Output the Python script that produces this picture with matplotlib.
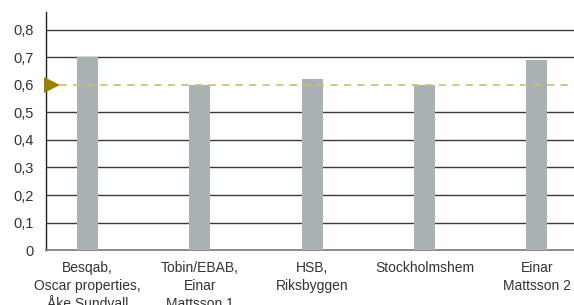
import matplotlib.pyplot as plt
import numpy as np

plt.rcParams['font.family'] = ['Liberation Sans', 'DejaVu Sans']

categories = ['Besqab,\nOscar properties,\nÅke Sundvall',
              'Tobin/EBAB,\nEinar\nMattsson 1',
              'HSB,\nRiksbyggen',
              'Stockholmshem',
              'Einar\nMattsson 2']
values = [0.70, 0.60, 0.62, 0.60, 0.69]
target = 0.6
yticks = [0, 0.1, 0.2, 0.3, 0.4, 0.5, 0.6, 0.7, 0.8]
ytick_labels = ['0', '0,1', '0,2', '0,3', '0,4', '0,5', '0,6', '0,7', '0,8']

fig = plt.figure(figsize=(5.74, 3.05), dpi=100)
ax = fig.add_axes([0.080, 0.180, 0.920, 0.781])

x = np.arange(len(categories))

# grid lines (the 0,6 level is shown by the dashed target line instead)
for t in yticks[1:]:
    if t == target:
        continue
    ax.axhline(t, color='#3a3a3a', lw=1.0, zorder=1)

ax.bar(x, values, width=0.187, color='#aab1b2', zorder=3)

# target line with marker just inside the left spine
ax.axhline(target, color='#d0c07a', lw=1.3, ls=(0, (4, 3.5)), zorder=4)
ax.plot([-0.318], [target], marker='>', ms=11, color='#9b7f0b',
        clip_on=False, zorder=5, markeredgewidth=0)

ax.set_xlim(-0.369, 4.33)
ax.set_ylim(0, 0.865)
ax.set_yticks(yticks)
ax.set_yticklabels(ytick_labels)
ax.set_xticks(x)
ax.set_xticklabels(categories, linespacing=1.35)

ax.tick_params(axis='y', length=0, pad=9, labelsize=10.5, colors='#333333')
ax.tick_params(axis='x', length=0, pad=8, labelsize=10, colors='#333333')

for s in ['top', 'right']:
    ax.spines[s].set_visible(False)
ax.spines['left'].set_color('#222222')
ax.spines['left'].set_linewidth(1.0)
ax.spines['bottom'].set_color('#777777')
ax.spines['bottom'].set_linewidth(1.2)

fig.savefig('out.png', dpi=100)
